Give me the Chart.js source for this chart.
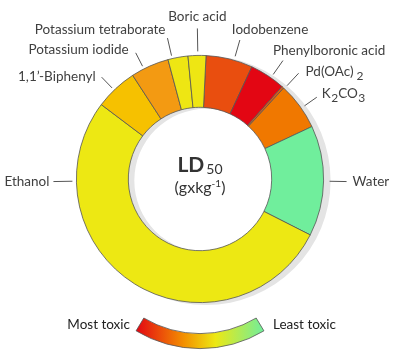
<!DOCTYPE html>
<html>
<head>
<meta charset="utf-8">
<script src="https://cdn.jsdelivr.net/npm/chart.js@4/dist/chart.umd.min.js"></script>
<style>
  body { margin: 0; background: #fff; }
</style>
</head>
<body>
<canvas id="grafico" width="400" height="360"></canvas>
<script>
// dados (sentido horario, comecando no Iodobenzene) - fatias
var compostos = ['Iodobenzene', 'Phenylboronic acid', 'Pd(OAc)_2', 'K_2CO_3', 'Water', 'Ethanol',
                 '1,1\u2019-Biphenyl', 'Potassium iodide', 'Potassium tetraborate', 'Boric acid'];
var valores = [22, 16.8, 1, 22.3, 52, 190.1, 20, 18, 9.4, 8.4];
var cores = ['#e94e0f', '#e30613', '#ea5b0c', '#f07800', '#70ee9c', '#ede813',
             '#f6c100', '#f39a12', '#eee613', '#eee613'];

// posicao dos rotulos: angulo da linha guia, raio inicial/final, deslocamento do texto
var rotulos = [
  { ang: 16,  r0: 4, r1: 21, dx: -8, dy: -10, align: 'left' },
  { ang: 35,  r0: 4, r1: 21, dx: -10, dy: -10, align: 'left' },
  { ang: 43,  r0: 4, r1: 21, dx: 7, dy: -2, align: 'left' },
  { ang: 55,  r0: 4, r1: 19, dx: 5, dy: -4, align: 'left' },
  { ang: 91,  r0: 6, r1: 23, dx: 6, dy: 0, align: 'left' },
  { ang: 269, r0: 4, r1: 23, dx: -4, dy: 0, align: 'right' },
  { ang: 316, r0: 3, r1: 18, dx: -6, dy: -1, align: 'right' },
  { ang: 333, r0: 3, r1: 18, dx: -7, dy: -3, align: 'right' },
  { ang: 347, r0: 3, r1: 21, dx: -2, dy: -8, align: 'right' },
  { ang: 359, r0: 4, r1: 27, dx: 0, dy: -12, align: 'center' }
];

var fonte = 'Lato, "Open Sans", sans-serif';

// texto com subscrito: "K_2CO_3"
function partes(txt) {
  var out = [];
  var i = 0;
  while (i < txt.length) {
    if (txt[i] == '_') { out.push({ t: txt[i + 1], sub: true }); i += 2; }
    else {
      var j = i;
      while (j < txt.length && txt[j] != '_') j++;
      out.push({ t: txt.slice(i, j), sub: false });
      i = j;
    }
  }
  return out;
}

function textoRico(ctx, txt, x, y, align) {
  var p = partes(txt);
  var w = 0;
  p.forEach(function (q, k) {
    ctx.font = q.sub ? '12px ' + fonte : '13.5px ' + fonte;
    // um pouco mais de espaco depois do parentese
    q.gap = q.sub ? (p[k - 1].t.slice(-1) == ')' ? 3 : 0.5) : 0;
    q.w = ctx.measureText(q.t).width + q.gap;
    w += q.w;
  });
  var x0 = x;
  if (align == 'right') x0 = x - w;
  if (align == 'center') x0 = x - w / 2;
  ctx.textAlign = 'left';
  ctx.textBaseline = 'middle';
  p.forEach(function (q) {
    ctx.font = q.sub ? '12px ' + fonte : '13.5px ' + fonte;
    ctx.fillText(q.t, x0 + q.gap, y + (q.sub ? 5 : 0));
    x0 += q.w;
  });
}

var sombra = {
  id: 'sombra',
  beforeDatasetsDraw: function (chart) {
    var arco = chart.getDatasetMeta(0).data[0];
    var ctx = chart.ctx;
    ctx.save();
    ctx.fillStyle = '#e4e4e4';
    ctx.beginPath();
    ctx.arc(arco.x + 6, arco.y + 1.5, arco.outerRadius + 1, 0, Math.PI * 2);
    ctx.arc(arco.x + 6, arco.y + 1.5, arco.innerRadius, 0, Math.PI * 2, true);
    ctx.fill();
    ctx.restore();
  }
};

var extras = {
  id: 'extras',
  afterDraw: function (chart) {
    var arco = chart.getDatasetMeta(0).data[0];
    var cx = arco.x, cy = arco.y, R = arco.outerRadius;
    var ctx = chart.ctx;
    ctx.save();

    // rotulos e linhas guia
    ctx.strokeStyle = '#555';
    ctx.lineWidth = 1;
    ctx.fillStyle = '#404040';
    rotulos.forEach(function (l, i) {
      var a = l.ang * Math.PI / 180;
      var sx = cx + (R + l.r0) * Math.sin(a), sy = cy - (R + l.r0) * Math.cos(a);
      var ex = cx + (R + l.r1) * Math.sin(a), ey = cy - (R + l.r1) * Math.cos(a);
      ctx.beginPath();
      ctx.moveTo(sx, sy);
      ctx.lineTo(ex, ey);
      ctx.stroke();
      textoRico(ctx, compostos[i], ex + l.dx, ey + l.dy, l.align);
    });

    // texto central
    ctx.fillStyle = '#333';
    ctx.textBaseline = 'alphabetic';
    ctx.textAlign = 'left';
    ctx.font = 'bold 21px ' + fonte;
    var w1 = ctx.measureText('LD').width;
    ctx.font = '14px ' + fonte;
    var w2 = ctx.measureText('50').width;
    var x0 = cx - (w1 + w2 + 2) / 2;
    ctx.font = 'bold 21px ' + fonte;
    ctx.fillText('LD', x0, cy - 7);
    ctx.font = '14px ' + fonte;
    ctx.fillText('50', x0 + w1 + 2, cy - 5);

    ctx.font = '16px ' + fonte;
    var w3 = ctx.measureText('(gxkg').width;
    ctx.font = '10px ' + fonte;
    var w4 = ctx.measureText('-1').width;
    ctx.font = '16px ' + fonte;
    var w5 = ctx.measureText(')').width;
    x0 = cx - (w3 + w4 + w5) / 2;
    ctx.fillText('(gxkg', x0, cy + 14);
    ctx.font = '10px ' + fonte;
    ctx.fillText('-1', x0 + w3, cy + 8);
    ctx.font = '16px ' + fonte;
    ctx.fillText(')', x0 + w3 + w4, cy + 14);

    // barra de toxicidade
    var bx = cx, by = cy + 45.5;
    var ro = R + 0.5, ri = R - 14.5;
    var a1 = 59 * Math.PI / 180, a2 = 121 * Math.PI / 180;
    var grad = ctx.createLinearGradient(bx - ro * Math.cos(a1), 0, bx + ro * Math.cos(a1), 0);
    grad.addColorStop(0, '#e30613');
    grad.addColorStop(0.38, '#f39200');
    grad.addColorStop(0.62, '#ede813');
    grad.addColorStop(1, '#70ee9c');
    ctx.beginPath();
    ctx.arc(bx, by, ro, a1, a2);
    ctx.arc(bx, by, ri, a2, a1, true);
    ctx.closePath();
    ctx.fillStyle = grad;
    ctx.fill();
    ctx.strokeStyle = '#555';
    ctx.lineWidth = 0.8;
    ctx.stroke();

    ctx.fillStyle = '#222';
    ctx.font = '13.5px ' + fonte;
    ctx.textBaseline = 'middle';
    ctx.textAlign = 'right';
    ctx.fillText('Most toxic', cx - 70, cy + 146);
    ctx.textAlign = 'left';
    ctx.fillText('Least toxic', cx + 73, cy + 146);
    ctx.restore();
  }
};

var ctx = document.getElementById('grafico').getContext('2d');
var grafico = new Chart(ctx, {
  type: 'doughnut',
  data: {
    labels: compostos,
    datasets: [{
      data: valores,
      backgroundColor: cores,
      borderColor: '#555',
      borderWidth: 0.8
    }]
  },
  options: {
    responsive: false,
    animation: false,
    rotation: 2.8,
    cutout: '58%',
    layout: { padding: { top: 55, bottom: 57, left: 76, right: 76 } },
    plugins: {
      legend: { display: false },
      tooltip: { enabled: false }
    }
  },
  plugins: [sombra, extras]
});
</script>
</body>
</html>
